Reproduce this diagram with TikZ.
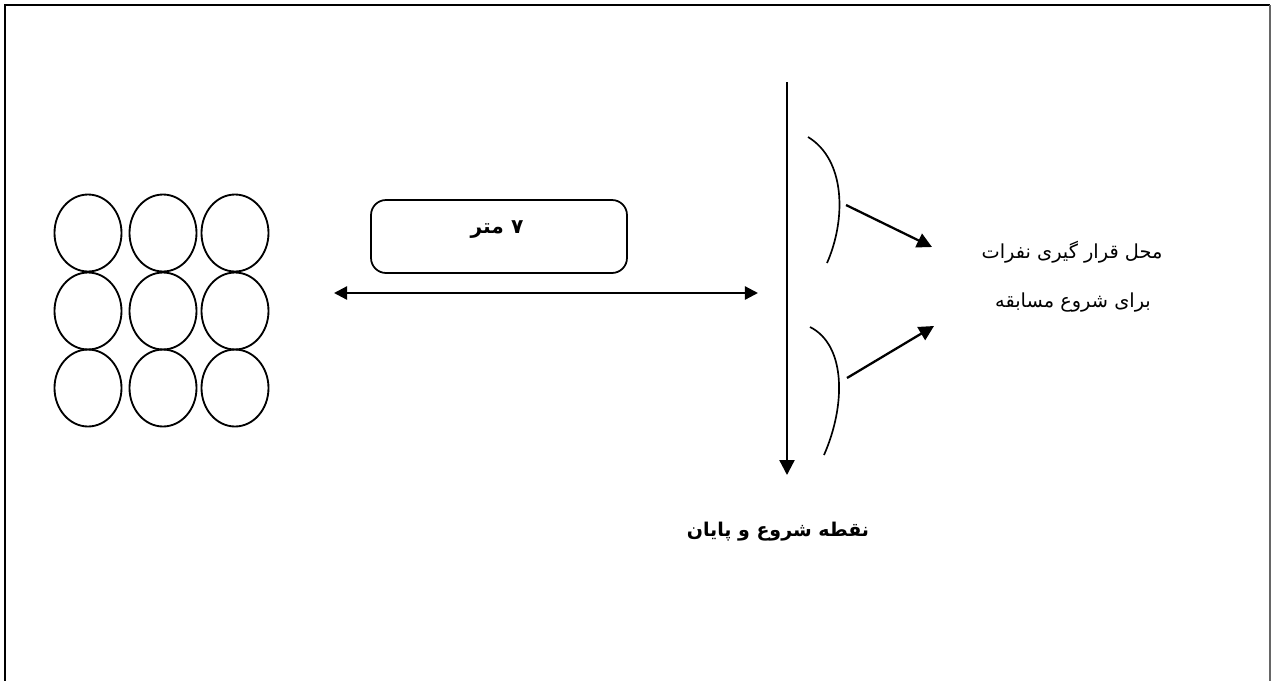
\documentclass[tikz,border=0pt]{standalone}
\usepackage{fontspec}
\usetikzlibrary{arrows.meta,shapes.geometric}
\newfontfamily\fa[Script=Arabic]{DejaVu Sans}
\TeXXeTstate=1
\begin{document}
\begin{tikzpicture}[x=0.02cm,y=-0.02cm,
  ring/.style={draw,ellipse,line width=1.05pt,minimum width=1.34cm,minimum height=1.54cm,inner sep=0pt},
  tip/.style={-{Triangle[length=8.5pt,width=8.5pt]}},
  thick line/.style={line width=1.3pt}]
\useasboundingbox (0,0) rectangle (1271,680);
\draw[line width=1.3pt] (5,690) -- (5,5) -- (1270,5);
\draw[line width=0.8pt,black!60] (1270,5) -- (1270,690);
% circles
\foreach \c/\x in {1/88,2/163,3/235}{
  \foreach \r/\y in {1/233,2/311,3/388}{
    \node[ring] (c\r\c) at (\x,\y) {};
  }
}
% distance box
\node[draw,rounded corners=0.3cm,line width=1pt,minimum width=5.12cm,minimum height=1.46cm] (box) at (499,236.5) {};
\node (boxlabel) at (497,230) {\fa\bfseries\fontsize{11.5}{13}\selectfont\beginR ۷ متر\endR};
\coordinate (dl) at (334,293);
\coordinate (dr) at (758,293);
\draw[thick line,{Triangle[length=7.5pt,width=7.5pt]}-{Triangle[length=7.5pt,width=7.5pt]}] (dl) -- (dr);
% start line
\coordinate (vt) at (787,82);
\coordinate (vb) at (787,475);
\draw[thick line,tip] (vt) -- (vb);
% arcs
\draw[line width=0.95pt] (808,137) .. controls (846,160) and (846,220) .. (827,263);
\draw[line width=0.95pt] (810,327) .. controls (846,345) and (846,405) .. (824,455);
% arrows to label
\coordinate (a1s) at (846,205);
\coordinate (a1e) at (932,247);
\coordinate (a2s) at (847,378);
\coordinate (a2e) at (934,326);
\draw[thick line,tip] (a1s) -- (a1e);
\draw[thick line,tip] (a2s) -- (a2e);
% labels
\node (place1) at (1072,252) {\fa\fontsize{11}{13}\selectfont\beginR محل قرار گیری نفرات\endR};
\node (place2) at (1073,303) {\fa\fontsize{11}{13}\selectfont\beginR برای شروع مسابقه\endR};
\node (startend) at (778,532) {\fa\bfseries\fontsize{10.8}{13}\selectfont\beginR نقطه شروع و پایان\endR};
\end{tikzpicture}
\end{document}
